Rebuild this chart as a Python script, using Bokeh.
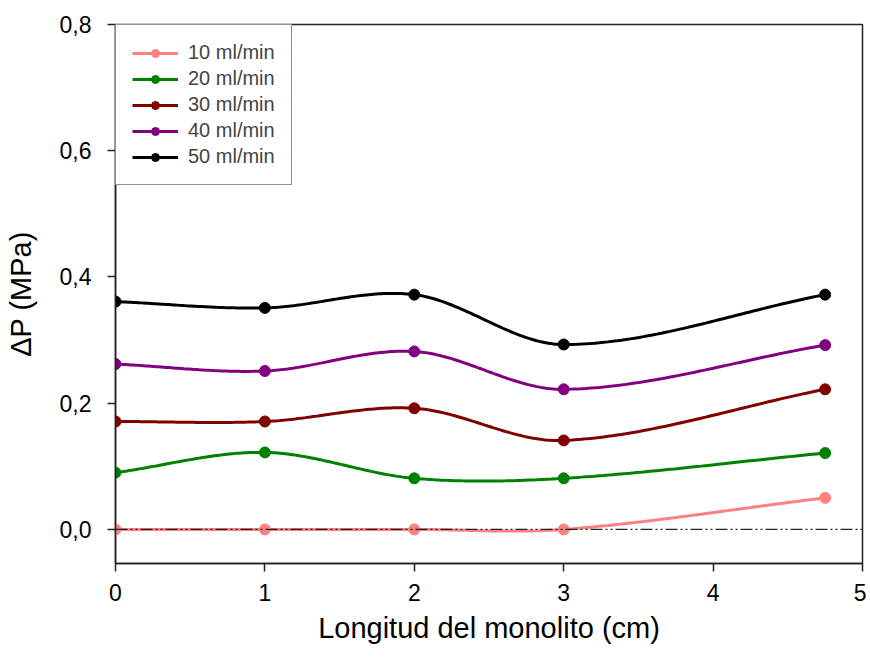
import numpy as np
from bokeh.plotting import figure
from bokeh.models import Range1d, Span, Legend, LegendItem, CustomJSTickFormatter, FixedTicker
from bokeh.embed import file_html
from bokeh.resources import INLINE

# ---- data ----
x_cm = [0, 1, 2, 3, 4.75]
flow_labels = ["10 ml/min", "20 ml/min", "30 ml/min", "40 ml/min", "50 ml/min"]
dp_10 = [0.0, 0.0, 0.0, 0.0, 0.05]
dp_20 = [0.09, 0.122, 0.081, 0.081, 0.121]
dp_30 = [0.171, 0.171, 0.192, 0.141, 0.222]
dp_40 = [0.262, 0.251, 0.282, 0.222, 0.292]
dp_50 = [0.361, 0.351, 0.372, 0.293, 0.372]
series = [dp_10, dp_20, dp_30, dp_40, dp_50]
colors = ["#FF8080", "#008000", "#800000", "#800080", "#000000"]
x_ticks = [0, 1, 2, 3, 4, 5]
y_ticks = [0.0, 0.2, 0.4, 0.6, 0.8]

FONT = "Liberation Sans"


def smooth_curve(x, y, n=60):
    """Catmull-Rom style cubic Hermite curve through the data points."""
    x = np.asarray(x, float)
    y = np.asarray(y, float)
    m = len(x)
    slopes = np.zeros(m)
    slopes[0] = (y[1] - y[0]) / (x[1] - x[0])
    slopes[-1] = (y[-1] - y[-2]) / (x[-1] - x[-2])
    for i in range(1, m - 1):
        slopes[i] = (y[i + 1] - y[i - 1]) / (x[i + 1] - x[i - 1])
    xs_all, ys_all = [], []
    for i in range(m - 1):
        h = x[i + 1] - x[i]
        t = np.linspace(0, 1, n)
        h00 = 2 * t ** 3 - 3 * t ** 2 + 1
        h10 = t ** 3 - 2 * t ** 2 + t
        h01 = -2 * t ** 3 + 3 * t ** 2
        h11 = t ** 3 - t ** 2
        ys = h00 * y[i] + h10 * h * slopes[i] + h01 * y[i + 1] + h11 * h * slopes[i + 1]
        xs = x[i] + t * h
        xs_all.append(xs)
        ys_all.append(ys)
    return np.concatenate(xs_all), np.concatenate(ys_all)


p = figure(width=866, height=654, output_backend="svg", toolbar_location=None,
           x_range=Range1d(0, 5), y_range=Range1d(-0.054, 0.8),
           min_border_left=115, min_border_top=24, min_border_right=4, min_border_bottom=91)
p.background_fill_color = "white"
p.border_fill_color = "white"
p.outline_line_color = "#222222"
p.outline_line_width = 1.5
p.xgrid.visible = False
p.ygrid.visible = False

zero_line = Span(location=0, dimension="width", line_color="#222222", line_width=1.2,
                 line_dash="12 3 2 3 2 3")
p.add_layout(zero_line)

items = []
for ys, c, lab in zip(series, colors, flow_labels):
    sx, sy = smooth_curve(x_cm, ys)
    r_line = p.line(sx, sy, line_color=c, line_width=3)
    r_pts = p.scatter(x_cm, ys, size=11, marker="circle", fill_color=c, line_color=c)
    items.append(LegendItem(label=lab, renderers=[r_line, r_pts]))

legend = Legend(items=items, location="top_left", margin=0, padding=16,
                spacing=3, glyph_width=46, glyph_height=20, label_height=20,
                label_standoff=10, label_text_font=FONT, label_text_font_size="20px",
                border_line_color="#222222", border_line_width=1.5,
                background_fill_alpha=1.0)
p.add_layout(legend)

for ax in (p.xaxis[0], p.yaxis[0]):
    ax.axis_line_color = "#222222"
    ax.axis_line_width = 1.5
    ax.major_tick_line_color = "#222222"
    ax.major_tick_line_width = 1.5
    ax.major_tick_in = 0
    ax.major_tick_out = 8
    ax.minor_tick_line_color = None
    ax.major_label_text_font = FONT
    ax.major_label_text_font_size = "23px"
    ax.major_label_text_color = "black"
    ax.axis_label_text_font = FONT
    ax.axis_label_text_font_size = "29px"
    ax.axis_label_text_font_style = "normal"
    ax.axis_label_text_color = "black"

p.xaxis.ticker = FixedTicker(ticks=x_ticks)
p.yaxis.ticker = FixedTicker(ticks=y_ticks)
p.yaxis.formatter = CustomJSTickFormatter(code="return tick.toFixed(1).replace('.', ',');")
p.xaxis.axis_label = "Longitud del monolito (cm)"
p.yaxis.axis_label = "ΔP (MPa)"
p.xaxis.major_label_standoff = 12
p.yaxis.major_label_standoff = 16
p.xaxis.axis_label_standoff = 8
p.yaxis.axis_label_standoff = 20

open("out.html", "w").write(file_html(p, INLINE))
